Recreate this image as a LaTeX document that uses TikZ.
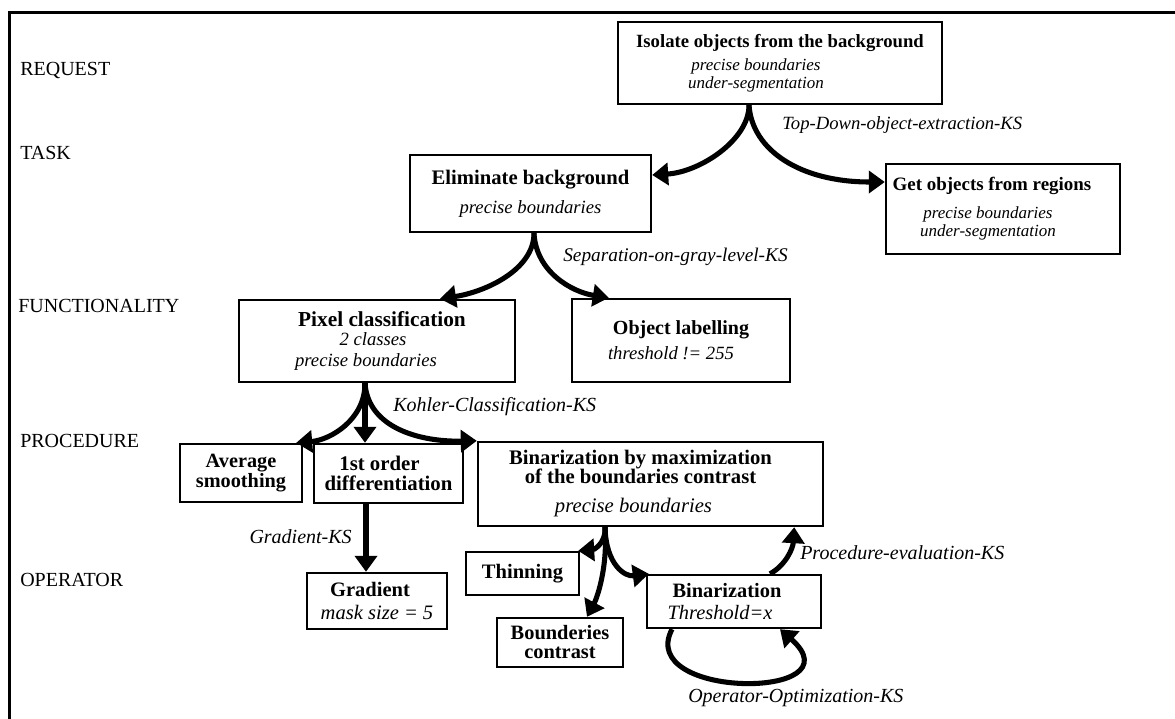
\documentclass[tikz,border=0pt]{standalone}
\usepackage{fontspec}
\setmainfont{Liberation Serif}
\usetikzlibrary{arrows.meta,calc}
\newcommand{\boldln}[2]{{\fontsize{#1}{13.5}\selectfont\bfseries #2}}
\newcommand{\itln}[2]{{\fontsize{#1}{13.5}\selectfont\itshape #2}}
\newcommand{\rpad}[1]{\hspace*{#1}\null}
\newcommand{\nolsl}{\lineskiplimit=-50pt\relax}
\begin{document}
\begin{tikzpicture}[x=0.75pt,y=-0.75pt,
  box/.style={draw, line width=1.8pt, inner sep=0pt, align=center,
    font={\fontsize{15}{13.5}\selectfont\nolsl}},
  conn/.style={line width=3.8pt, -{Triangle[length=12pt,width=16.5pt]}},
  lvl/.style={anchor=west, inner sep=0pt, font=\fontsize{15}{18}\selectfont},
  ks/.style={inner sep=0pt, font=\fontsize{15}{18}\selectfont\itshape}]
\useasboundingbox (0,0) rectangle (1175,718);
% frame
\draw[line width=2.25pt] (1176,12.5) -| (9.7,719);
% level labels
\node[lvl] (lreq) at (20,70) {REQUEST};
\node[lvl] (ltask) at (20,153) {TASK};
\node[lvl] (lfun) at (18,306) {FUNCTIONALITY};
\node[lvl] (lproc) at (20,441) {PROCEDURE};
\node[lvl] (lop) at (20,580) {OPERATOR};
% boxes
\node[box, minimum width=243pt, minimum height=61.5pt] (req) at (780,63)
  {\boldln{14}{Isolate objects from the background}\\[3.75pt]\itln{12.75}{precise boundaries}\rpad{36pt}\\\itln{12.75}{under-segmentation}\rpad{36pt}};
\node[box, minimum width=180.75pt, minimum height=57.75pt] (elim) at (530.5,193.5)
  {\boldln{15.5}{Eliminate background}\\[8.25pt]\itln{14}{precise boundaries}};
\node[box, minimum width=175.5pt, minimum height=67.5pt] (get) at (1003,209)
  {\boldln{14.2}{Get objects from regions}\rpad{16.5pt}\\[7.5pt]\itln{12.75}{precise boundaries}\rpad{22.5pt}\\\itln{12.75}{under-segmentation}\rpad{22.5pt}};
\node[box, minimum width=207pt, minimum height=61.5pt] (pix) at (377,341)
  {\hspace*{7.5pt}\boldln{16}{Pixel classification}\\[0.75pt]\itln{14}{2 classes}\rpad{6pt}\\[2.25pt]\itln{14}{precise boundaries}\rpad{16.5pt}};
\node[box, minimum width=163.5pt, minimum height=62.25pt] (obj) at (681,340.5)
  {\boldln{15}{Object labelling}\\[5.25pt]\itln{14}{threshold != 255}\rpad{15pt}};
\node[box, minimum width=91.5pt, minimum height=43.5pt] (avg) at (241,473)
  {\boldln{15.2}{Average}\\[1.5pt]\boldln{15.2}{smoothing}};
\node[box, minimum width=111.75pt, minimum height=44.25pt] (fst) at (388.5,473.5)
  {\boldln{15.6}{1st order}\rpad{13.5pt}\\[1.5pt]\boldln{15.6}{differentiation}};
\node[box, minimum width=258.75pt, minimum height=63pt] (binmax) at (650.5,484)
  {\boldln{15.5}{Binarization by maximization}\rpad{15pt}\\[0.75pt]\boldln{15.5}{of the boundaries contrast}\rpad{15pt}\\[8.25pt]\itln{15.5}{precise boundaries}\rpad{25.5pt}};
\node[box, minimum width=84.75pt, minimum height=32.25pt] (thin) at (522.5,573.5)
  {\boldln{15.4}{Thinning}};
\node[box, minimum width=94.5pt, minimum height=36.75pt] (bound) at (560,642.5)
  {\boldln{15.3}{Bounderies}\\[0.75pt]\boldln{15.3}{contrast}};
\node[box, minimum width=130.5pt, minimum height=39.75pt] (binop) at (734,601.5)
  {\boldln{15.3}{Binarization}\rpad{10.5pt}\\[3pt]\itln{15.3}{Threshold=x}\rpad{21pt}};
\node[box, minimum width=105pt, minimum height=42pt] (grad) at (377,601)
  {\boldln{15.4}{Gradient}\rpad{10.5pt}\\[3.75pt]\itln{15.4}{mask size = 5}};
% connector labels
\node[ks, anchor=west, font=\fontsize{14}{16}\selectfont\itshape] (ktop) at (782,125) {Top-Down-object-extraction-KS};
\node[ks, anchor=west, font=\fontsize{14.5}{16}\selectfont\itshape] (ksep) at (563,257) {Separation-on-gray-level-KS};
\node[ks, anchor=west] (kkoh) at (393,407) {Kohler-Classification-KS};
\node[ks, anchor=east] (kgrad) at (352,537) {Gradient-KS};
\node[ks, anchor=west] (kproc) at (800,553) {Procedure-evaluation-KS};
\node[ks, anchor=west] (kopt) at (688,698) {Operator-Optimization-KS};
% connectors
\coordinate (sA) at ($(req.south)+(-31,0)$);
\coordinate (sB) at ($(elim.south)+(3.5,0)$);
\coordinate (sC) at ($(pix.south)+(-12,0)$);
\coordinate (sD) at ($(binmax.south)+(-45.5,0)$);
\draw[conn] (sA) .. controls (749,140) and (700,172) .. ($(elim.east)+(0,-18.5)$);
\draw[conn] (sA) .. controls (752,150) and (800,182) .. ($(get.west)+(0,-27)$);
\draw[conn] (sB) .. controls (534,270) and (485,292) .. ($(pix.north)+(63,0)$);
\draw[conn] (sB) .. controls (536,272) and (572,292) .. ($(obj.north west)+(38,0)$);
\draw[conn] (sC) .. controls (365,420) and (330,440) .. ($(avg.north east)+(-7,0)$);
\draw[conn] (sC) -- ($(fst.north)+(-23.5,0)$);
\draw[conn] (sC) .. controls (368,428) and (420,442) .. (binmax.north west);
\draw[conn] ($(fst.south)+(-22.5,0)$) -- ($(grad.north)+(-11,0)$);
\draw[conn] (sD) .. controls (606,545) and (592,550) .. ($(thin.north east)+(-2,0)$);
\draw[conn] (sD) .. controls (608,570) and (596,600) .. ($(bound.north)+(27,0)$);
\draw[conn] (sD) .. controls (606,565) and (625,577) .. ($(binop.north west)+(3,0)$);
\draw[conn] ($(binop.north)+(36,0)$) .. controls (786,565) and (793,548) .. ($(binmax.south east)+(-30,0)$);
\draw[conn] ($(binop.south)+(-62,0)$) .. controls (635,700) and (860,700) .. ($(binop.south)+(46,0)$);
\end{tikzpicture}
\end{document}
